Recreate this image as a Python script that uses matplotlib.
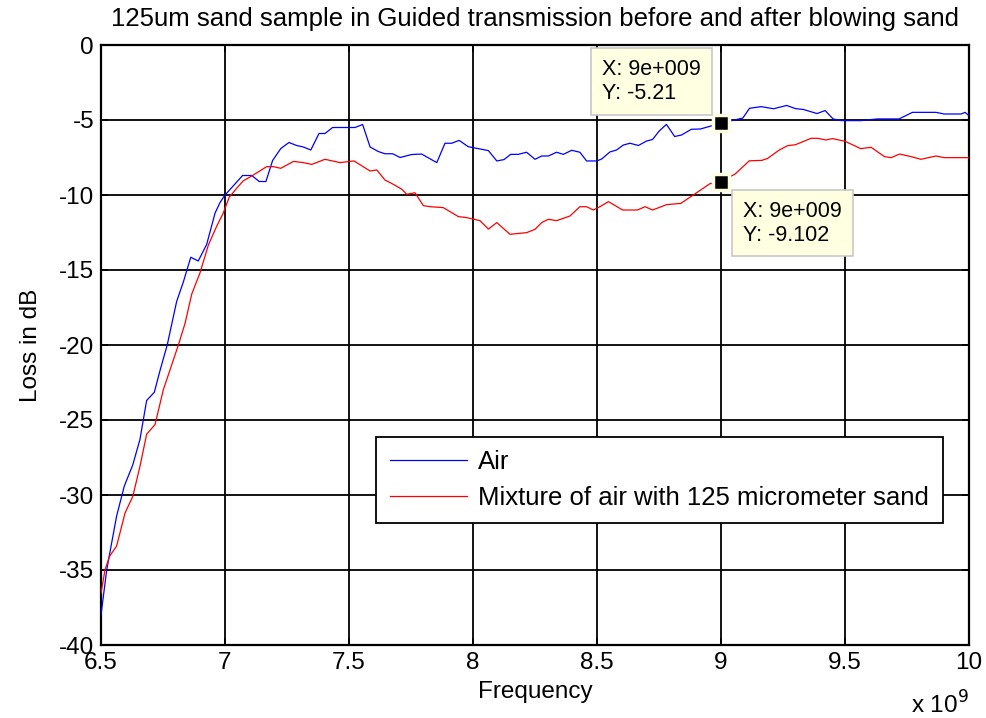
import numpy as np
import matplotlib
matplotlib.use('Agg')
import matplotlib.pyplot as plt

plt.rcParams['font.family'] = ['Liberation Sans', 'DejaVu Sans']
plt.rcParams['axes.unicode_minus'] = False

# frequencies in GHz (plotted in Hz), values in dB
freq_air = [6.500, 6.523, 6.534, 6.563, 6.594, 6.628, 6.657, 6.684, 6.715, 6.738,
            6.767, 6.805, 6.832, 6.862, 6.892, 6.926, 6.960, 6.980, 7.000, 7.071,
            7.108, 7.138, 7.165, 7.192, 7.225, 7.258, 7.289, 7.316, 7.346, 7.379,
            7.403, 7.434, 7.524, 7.555, 7.585, 7.618, 7.645, 7.676, 7.706, 7.753,
            7.793, 7.854, 7.887, 7.914, 7.944, 7.981, 8.028, 8.062, 8.096, 8.125,
            8.152, 8.183, 8.216, 8.250, 8.277, 8.304, 8.337, 8.364, 8.398, 8.431,
            8.458, 8.499, 8.519, 8.552, 8.579, 8.606, 8.633, 8.667, 8.700, 8.724,
            8.750, 8.780, 8.813, 8.841, 8.880, 8.917, 9.000, 9.088, 9.115, 9.162,
            9.212, 9.265, 9.300, 9.333, 9.387, 9.420, 9.452, 9.485, 9.565, 9.630,
            9.718, 9.772, 9.867, 9.900, 9.968, 9.984, 10.000]
loss_air = [-38.0, -35.0, -34.0, -31.4, -29.4, -28.0, -26.3, -23.7, -23.15, -21.7,
            -20.0, -17.1, -15.8, -14.15, -14.4, -13.3, -11.2, -10.5, -10.0, -8.7,
            -8.7, -9.1, -9.1, -7.7, -6.9, -6.5, -6.7, -6.8, -7.0, -5.9,
            -5.9, -5.5, -5.5, -5.3, -6.8, -7.1, -7.25, -7.25, -7.5, -7.3,
            -7.27, -7.84, -6.55, -6.55, -6.36, -6.78, -6.93, -7.04, -7.73, -7.64,
            -7.29, -7.29, -7.15, -7.62, -7.4, -7.4, -7.15, -7.29, -7.02, -7.15,
            -7.73, -7.73, -7.6, -7.13, -7.0, -6.67, -6.55, -6.7, -6.4, -6.3,
            -5.75, -5.29, -6.1, -6.0, -5.62, -5.6, -5.21, -4.87, -4.22, -4.11,
            -4.25, -4.03, -4.24, -4.3, -4.57, -4.37, -4.93, -5.04, -5.04, -4.93,
            -4.93, -4.49, -4.49, -4.6, -4.6, -4.49, -4.71]

freq_sand = [6.500, 6.516, 6.534, 6.563, 6.597, 6.628, 6.657, 6.684, 6.718, 6.751,
             6.812, 6.839, 6.866, 6.899, 6.933, 6.966, 6.993, 7.017, 7.047, 7.074,
             7.108, 7.168, 7.195, 7.225, 7.276, 7.316, 7.350, 7.403, 7.464, 7.520,
             7.585, 7.612, 7.645, 7.679, 7.713, 7.733, 7.766, 7.800, 7.827, 7.880,
             7.941, 7.975, 8.028, 8.062, 8.096, 8.149, 8.216, 8.250, 8.277, 8.304,
             8.337, 8.391, 8.431, 8.458, 8.485, 8.512, 8.546, 8.603, 8.663, 8.694,
             8.724, 8.781, 8.838, 8.891, 8.955, 9.000, 9.057, 9.114, 9.165, 9.188,
             9.235, 9.269, 9.300, 9.363, 9.389, 9.423, 9.450, 9.500, 9.538, 9.563,
             9.605, 9.659, 9.686, 9.720, 9.766, 9.806, 9.867, 9.900, 10.000]
loss_sand = [-36.55, -35.0, -34.1, -33.4, -31.2, -30.1, -28.1, -25.95, -25.3, -23.0,
             -20.0, -18.55, -16.6, -15.2, -13.33, -12.1, -11.2, -10.15, -9.55, -9.05,
             -8.73, -8.11, -8.11, -8.22, -7.76, -7.84, -7.96, -7.62, -7.84, -7.73,
             -8.4, -8.33, -9.0, -9.29, -9.62, -9.95, -9.85, -10.71, -10.78, -10.84,
             -11.44, -11.51, -11.71, -12.27, -11.84, -12.62, -12.51, -12.29, -11.84, -11.62,
             -11.71, -11.4, -10.78, -10.78, -11.0, -10.78, -10.44, -11.0, -11.0, -10.78,
             -11.0, -10.64, -10.56, -9.97, -9.25, -9.102, -8.6, -7.72, -7.69, -7.56,
             -7.0, -6.71, -6.65, -6.22, -6.22, -6.33, -6.24, -6.42, -6.71, -6.91,
             -6.82, -7.44, -7.51, -7.27, -7.44, -7.62, -7.4, -7.51, -7.51]

# data tips
tip_freq = 9.0
tip_air = -5.21
tip_sand = -9.102

xticks = [6.5, 7, 7.5, 8, 8.5, 9, 9.5, 10]
xtick_labels = ['6.5', '7', '7.5', '8', '8.5', '9', '9.5', '10']
yticks = [0, -5, -10, -15, -20, -25, -30, -35, -40]

FS = 17.5

fig = plt.figure(figsize=(9.87, 7.18), dpi=100)
fig.subplots_adjust(left=101/987, right=969/987, top=1-45/718, bottom=1-645/718)
ax = fig.add_subplot(111)

ax.plot(np.array(freq_air) * 1e9, loss_air, color='#0000FF', lw=0.9,
        label='Air', zorder=3)
ax.plot(np.array(freq_sand) * 1e9, loss_sand, color='#FF0000', lw=0.9,
        label='Mixture of air with 125 micrometer sand', zorder=3)

ax.set_xlim(6.5e9, 10e9)
ax.set_ylim(-40, 0)
ax.set_xticks([t * 1e9 for t in xticks])
ax.set_xticklabels(xtick_labels)
ax.set_yticks(yticks)
ax.tick_params(direction='in', length=5, width=1.2, labelsize=FS,
               top=True, right=True, pad=5)
ax.grid(True, color='black', lw=1.3, ls='-')
for s in ax.spines.values():
    s.set_linewidth(1.6)

ax.set_title('125um sand sample in Guided transmission before and after blowing sand',
             fontsize=18.5, pad=14)
ax.set_xlabel('Frequency', fontsize=FS, labelpad=5)
ax.set_ylabel('Loss in dB', fontsize=FS, labelpad=12)
ax.text(1.0, -0.077, r'x 10$^9$', transform=ax.transAxes, ha='right', va='top',
        fontsize=FS)

# data tip markers and boxes
tipbox = dict(boxstyle='square,pad=0.5', fc='#FFFFE1', ec='#C8C8C8', lw=1.2)
for val, off in [(tip_air, (-119, 64)), (tip_sand, (22, -19))]:
    ax.plot(tip_freq * 1e9, val, 's', ms=11, mfc='black', mec='#FFFFE1', mew=2.5,
            zorder=5, clip_on=False)
    ax.annotate('X: 9e+009\nY: %s' % ('%g' % val), xy=(tip_freq * 1e9, val),
                xytext=off, textcoords='offset pixels', ha='left', va='top',
                fontsize=15.5, bbox=tipbox, zorder=6, linespacing=1.2)

leg = ax.legend(loc='upper left', bbox_to_anchor=(0.317, 0.347), fontsize=18.5,
                fancybox=False, framealpha=1, edgecolor='black',
                handlelength=3.0, handletextpad=0.45, borderpad=0.53,
                labelspacing=0.44, borderaxespad=0)
leg.get_frame().set_linewidth(1.3)
leg.set_zorder(10)

fig.savefig('out.png', dpi=100)
